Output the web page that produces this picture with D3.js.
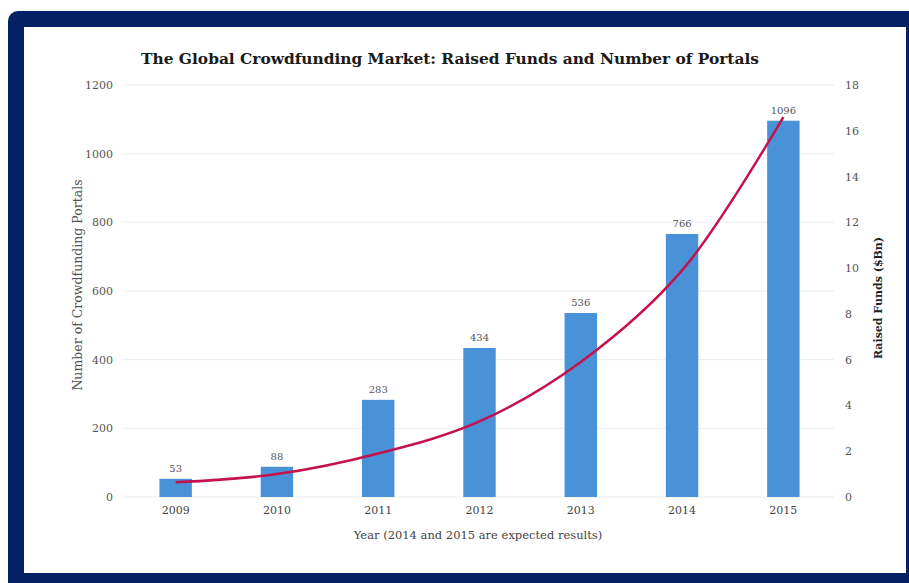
<!DOCTYPE html>
<html lang="en">
<head>
<meta charset="UTF-8">
<title>Global Crowdfunding Market</title>
<script src="https://d3js.org/d3.v7.min.js"></script>
<style>
  body { margin: 0; background: #fff; }
  svg { display: block; }
  .grid line { stroke: #ececec; }
  .tick text { font-family: "DejaVu Serif", serif; }
</style>
</head>
<body>
<div id="container"></div>
<script>
const years = ["2009", "2010", "2011", "2012", "2013", "2014", "2015"];
const portals = [53, 88, 283, 434, 536, 766, 1096];
const funds = [0.64, 1.0, 1.9, 3.3, 5.9, 9.9, 16.6];
const leftTicks = [0, 200, 400, 600, 800, 1000, 1200];
const rightTicks = [0, 2, 4, 6, 8, 10, 12, 14, 16, 18];

const width = 909, height = 583;
const svg = d3.select("#container").append("svg")
  .attr("width", width).attr("height", height);

// navy frame + white panel
svg.append("rect").attr("x", 8).attr("y", 11).attr("width", 920).attr("height", 600)
  .attr("rx", 10).attr("fill", "#032163");
svg.append("rect").attr("x", 24).attr("y", 27).attr("width", 882).attr("height", 546)
  .attr("fill", "#fff");

const plotL = 125, plotR = 834, plotT = 85, plotB = 497;

const x = d3.scaleBand().domain(years).range([plotL, plotR]).paddingInner(0.68).paddingOuter(0.34);
const yL = d3.scaleLinear().domain([0, 1200]).range([plotB, plotT]);
const yR = d3.scaleLinear().domain([0, 18]).range([plotB, plotT]);

// gridlines
svg.append("g").attr("class", "grid")
  .selectAll("line").data(leftTicks).enter().append("line")
  .attr("x1", plotL - 2).attr("x2", plotR)
  .attr("y1", d => yL(d)).attr("y2", d => yL(d));

// left axis
const gl = svg.append("g").attr("transform", `translate(${plotL - 12},0)`)
  .call(d3.axisLeft(yL).tickValues(leftTicks).tickFormat(d3.format("d")).tickSize(0).tickPadding(0));
gl.select(".domain").remove();
gl.selectAll("text").attr("font-size", 11).attr("fill", "#555");

// right axis
const gr = svg.append("g").attr("transform", `translate(${plotR + 11},0)`)
  .call(d3.axisRight(yR).tickValues(rightTicks).tickSize(0).tickPadding(0));
gr.select(".domain").remove();
gr.selectAll("text").attr("font-size", 11).attr("fill", "#555");

// bottom axis
const gb = svg.append("g").attr("transform", `translate(0,${plotB + 9})`)
  .call(d3.axisBottom(x).tickSize(0).tickPadding(0));
gb.select(".domain").remove();
gb.selectAll("text").attr("font-size", 11).attr("fill", "#444");

// bars
svg.selectAll(".bar").data(years).enter().append("rect")
  .attr("class", "bar")
  .attr("x", d => x(d)).attr("width", x.bandwidth())
  .attr("y", (d, i) => yL(portals[i]))
  .attr("height", (d, i) => plotB - yL(portals[i]))
  .attr("fill", "#4a92d8");

// bar value labels
svg.selectAll(".val").data(years).enter().append("text")
  .attr("x", d => x(d) + x.bandwidth() / 2)
  .attr("y", (d, i) => yL(portals[i]) - 7)
  .attr("text-anchor", "middle")
  .attr("font-family", "DejaVu Serif, serif").attr("font-size", 10).attr("fill", "#555")
  .text((d, i) => portals[i]);

// raised funds curve
const line = d3.line()
  .x((d, i) => x(years[i]) + x.bandwidth() / 2)
  .y(d => yR(d))
  .curve(d3.curveCatmullRom.alpha(0.5));
svg.append("path").datum(funds)
  .attr("d", line).attr("fill", "none")
  .attr("stroke", "#c5124c").attr("stroke-width", 2.5);

// title
svg.append("text").attr("x", 450).attr("y", 64).attr("text-anchor", "middle")
  .attr("font-family", "DejaVu Serif, serif").attr("font-weight", "bold")
  .attr("font-size", 15.4).attr("fill", "#1a1a1a")
  .text("The Global Crowdfunding Market: Raised Funds and Number of Portals");

// axis titles
svg.append("text").attr("x", 478).attr("y", 539).attr("text-anchor", "middle")
  .attr("font-family", "DejaVu Serif, serif").attr("font-size", 11.5).attr("fill", "#444")
  .text("Year (2014 and 2015 are expected results)");

svg.append("text").attr("transform", "translate(82,285) rotate(-90)").attr("text-anchor", "middle")
  .attr("font-family", "DejaVu Serif, serif").attr("font-size", 12.5).attr("fill", "#555")
  .text("Number of Crowdfunding Portals");

svg.append("text").attr("transform", "translate(882,298) rotate(-90)").attr("text-anchor", "middle")
  .attr("font-family", "DejaVu Serif, serif").attr("font-weight", "bold")
  .attr("font-size", 11).attr("fill", "#222")
  .text("Raised Funds ($Bn)");
</script>
</body>
</html>
